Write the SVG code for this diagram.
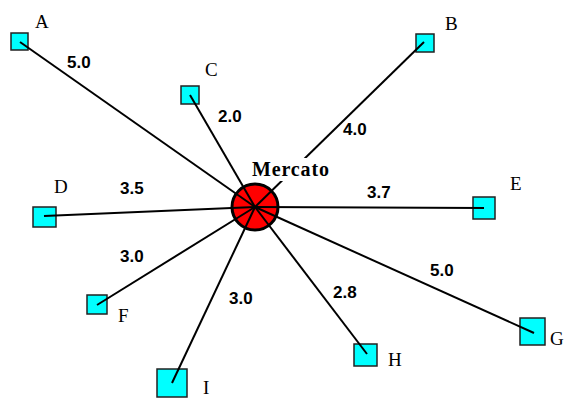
<svg xmlns="http://www.w3.org/2000/svg" width="565" height="399" viewBox="0 0 565 399">
<style>
.sq{fill:#00ffff;stroke:#222;stroke-width:1.5}
.lbl{font-family:"Liberation Serif","Times New Roman",serif;font-size:19px;fill:#000}
.num{font-family:"Liberation Sans",Arial,sans-serif;font-size:17px;font-weight:bold;fill:#000}
.edge{stroke:#000;stroke-width:2;fill:none}
</style>
<rect width="565" height="399" fill="#fff"/>
<g id="node-A"><rect class="sq" x="11" y="33" width="17" height="17"/><text class="lbl" x="35" y="28">A</text></g>
<g id="node-B"><rect class="sq" x="416" y="34" width="18" height="18"/><text class="lbl" x="445" y="30">B</text></g>
<g id="node-C"><rect class="sq" x="181" y="86" width="18" height="18"/><text class="lbl" x="205" y="76">C</text></g>
<g id="node-D"><rect class="sq" x="33" y="207" width="23" height="20"/><text class="lbl" x="54" y="193">D</text></g>
<g id="node-E"><rect class="sq" x="473" y="197" width="22" height="22"/><text class="lbl" x="510" y="190">E</text></g>
<g id="node-F"><rect class="sq" x="87" y="295" width="20" height="19"/><text class="lbl" x="118" y="322">F</text></g>
<g id="node-G"><rect class="sq" x="520" y="318" width="25" height="27"/><text class="lbl" x="550" y="345">G</text></g>
<g id="node-H"><rect class="sq" x="354" y="344" width="23" height="22"/><text class="lbl" x="388" y="366">H</text></g>
<g id="node-I"><rect class="sq" x="157" y="369" width="30" height="28"/><text class="lbl" x="203" y="394">I</text></g>
<g id="node-Mercato"><ellipse cx="255" cy="207" rx="23" ry="23" fill="#ff0000" stroke="#000" stroke-width="3"/></g>
<g id="connectors">
<line class="edge" x1="255" y1="207" x2="20" y2="42"/>
<line class="edge" x1="255" y1="207" x2="424" y2="42"/>
<line class="edge" x1="255" y1="207" x2="190" y2="95"/>
<line class="edge" x1="255" y1="207" x2="44" y2="216"/>
<line class="edge" x1="255" y1="207" x2="484" y2="208"/>
<line class="edge" x1="255" y1="207" x2="97" y2="305"/>
<line class="edge" x1="255" y1="207" x2="534" y2="333"/>
<line class="edge" x1="255" y1="207" x2="367" y2="354"/>
<line class="edge" x1="255" y1="207" x2="172" y2="383"/>
<text class="num" x="67" y="68">5.0</text>
<text class="num" x="218" y="122">2.0</text>
<text class="num" x="343" y="135">4.0</text>
<text class="num" x="120" y="194">3.5</text>
<text class="num" x="367" y="198">3.7</text>
<text class="num" x="120" y="262">3.0</text>
<text class="num" x="229" y="304">3.0</text>
<text class="num" x="333" y="298">2.8</text>
<text class="num" x="430" y="276">5.0</text>
</g>
<g id="mercato-label"><rect x="250" y="158" width="81" height="23" fill="#fff"/><text x="252" y="176" font-family="Liberation Serif,'Times New Roman',serif" font-size="20" font-weight="bold" textLength="77" lengthAdjust="spacing">Mercato</text></g>
</svg>
